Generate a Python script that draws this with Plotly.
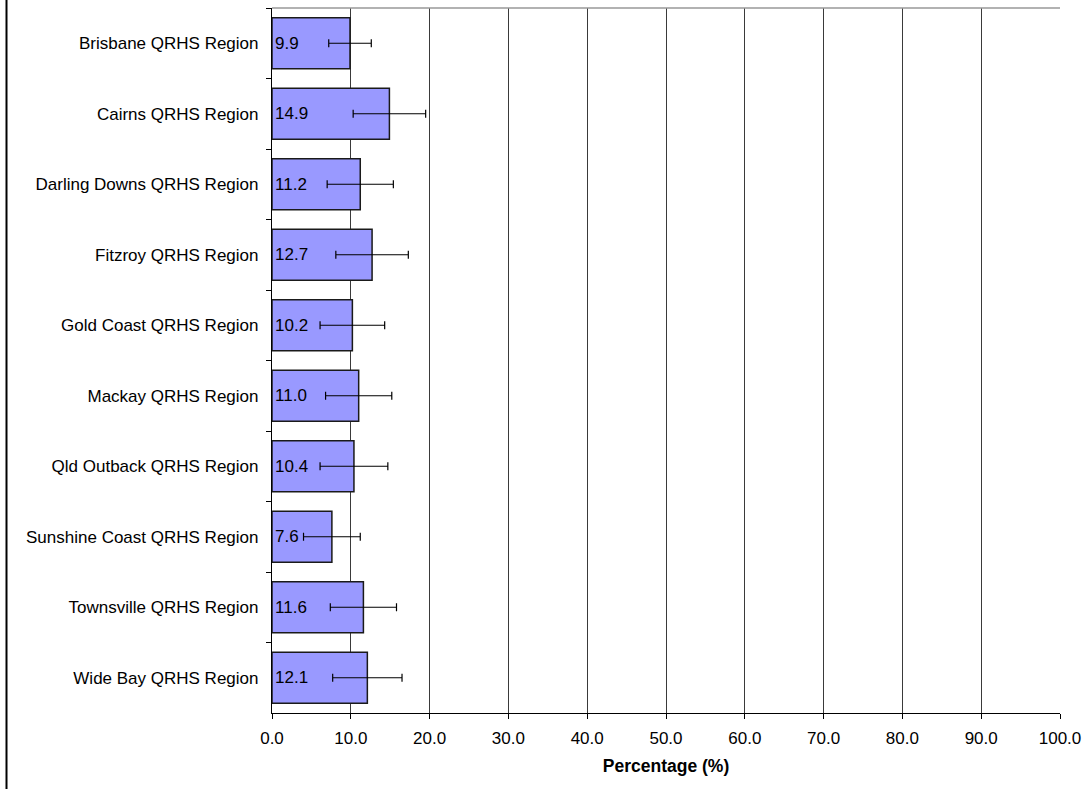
import plotly.graph_objects as go

regions = [
    "Brisbane QRHS Region",
    "Cairns QRHS Region",
    "Darling Downs QRHS Region",
    "Fitzroy QRHS Region",
    "Gold Coast QRHS Region",
    "Mackay QRHS Region",
    "Qld Outback QRHS Region",
    "Sunshine Coast QRHS Region",
    "Townsville QRHS Region",
    "Wide Bay QRHS Region",
]
values = [9.9, 14.9, 11.2, 12.7, 10.2, 11.0, 10.4, 7.6, 11.6, 12.1]
errors = [2.7, 4.6, 4.2, 4.6, 4.1, 4.2, 4.3, 3.6, 4.2, 4.4]
x_ticks = [0, 10, 20, 30, 40, 50, 60, 70, 80, 90, 100]

FONT = "Liberation Sans, Arial, Helvetica, sans-serif"

W, H = 1084, 789
L, R, T, B = 272, 24, 8, 76
plot_w = W - L - R

fig = go.Figure()
fig.add_trace(go.Bar(
    y=regions,
    x=values,
    orientation="h",
    marker=dict(color="#9999FF", line=dict(color="#1a1a1a", width=1.5)),
    width=0.72,
    error_x=dict(type="data", array=errors, visible=True, color="black", thickness=1.2, width=4),
    text=[f"{v:.1f}" for v in values],
    textposition="inside",
    insidetextanchor="start",
    textangle=0,
    constraintext="none",
    textfont=dict(size=17, color="black", family=FONT),
    hoverinfo="x+y",
))

fig.update_layout(
    width=W,
    height=H,
    autosize=False,
    margin=dict(l=L, r=R, t=T, b=B),
    paper_bgcolor="white",
    plot_bgcolor="white",
    showlegend=False,
    font=dict(family=FONT, size=17, color="black"),
    xaxis=dict(
        automargin=False,
        range=[0, 100],
        tickvals=x_ticks,
        ticktext=[f"{t:.1f}" for t in x_ticks],
        ticklabeloverflow="allow",
        showgrid=True,
        gridcolor="#3a3a3a",
        gridwidth=1,
        zeroline=False,
        showline=True,
        linecolor="black",
        linewidth=1.2,
        ticks="outside",
        ticklen=5,
        tickcolor="black",
        tickfont=dict(size=17),
        ticklabelstandoff=4,
        title=dict(text="<b>Percentage (%)</b>", font=dict(size=17.5), standoff=13),
    ),
    yaxis=dict(
        automargin=False,
        categoryorder="array",
        categoryarray=regions,
        autorange="reversed",
        tickson="boundaries",
        ticks="outside",
        ticklen=5,
        tickcolor="black",
        showline=True,
        linecolor="black",
        linewidth=1.2,
        showgrid=False,
        tickfont=dict(size=17),
        ticklabelstandoff=9,
    ),
    shapes=[
        dict(type="line", xref="paper", yref="paper", x0=0, x1=1, y0=1, y1=1,
             line=dict(color="#999999", width=1.5)),
        dict(type="line", xref="paper", yref="paper",
             x0=(6.5 - L) / plot_w, x1=(6.5 - L) / plot_w, y0=-0.2, y1=1.05,
             line=dict(color="black", width=2)),
    ],
)

fig.write_html(
    "out.html",
    config={"displayModeBar": False},
    post_script="document.body.style.margin='0px';document.body.style.overflow='hidden';",
)
